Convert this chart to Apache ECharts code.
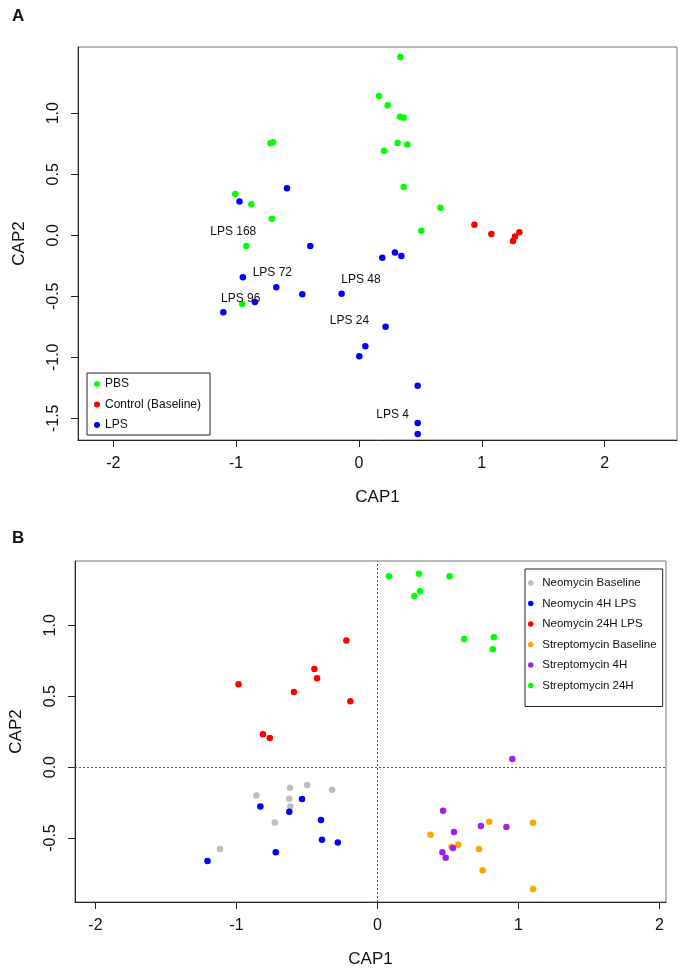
<!DOCTYPE html>
<html>
<head>
<meta charset="utf-8">
<script src="https://cdn.jsdelivr.net/npm/echarts@6/dist/echarts.min.js"></script>
<style>
html,body{margin:0;padding:0;background:#fff;}
#chart{width:681px;height:971px;}
</style>
</head>
<body>
<div id="chart"></div>
<script>
// ---------- Panel A data ----------
const pbsX = [0.337, 0.163, 0.234, 0.334, 0.364, 0.315, 0.394, 0.204, 0.364, 0.663, 0.508, -0.72, -0.70, -1.007, -0.876, -0.708, -0.917, -0.95];
const pbsY = [1.461, 1.142, 1.066, 0.972, 0.964, 0.757, 0.743, 0.693, 0.396, 0.226, 0.038, 0.755, 0.762, 0.339, 0.254, 0.136, -0.088, -0.563];
const ctrlX = [0.94, 1.078, 1.306, 1.27, 1.254];
const ctrlY = [0.087, 0.011, 0.025, -0.011, -0.047];
const lpsX = [-0.586, -0.972, -0.396, 0.19, 0.293, 0.345, -0.945, -0.673, -0.461, -0.141, -0.847, -1.104, 0.217, 0.052, 0.003, 0.478, 0.478, 0.478];
const lpsY = [0.385, 0.276, -0.088, -0.184, -0.142, -0.17, -0.344, -0.426, -0.484, -0.479, -0.547, -0.631, -0.749, -0.91, -0.992, -1.233, -1.539, -1.629];
const lpsLabelText = ['LPS 168', 'LPS 72', 'LPS 48', 'LPS 96', 'LPS 24', 'LPS 4'];
const lpsLabelX = [-1.023, -0.705, 0.016, -0.963, -0.077, 0.274];
const lpsLabelY = [0.03, -0.307, -0.364, -0.522, -0.697, -1.47];
const legendA = ['PBS', 'Control (Baseline)', 'LPS'];
const xTicksA = [-2, -1, 0, 1, 2];
const yTicksA = [-1.5, -1.0, -0.5, 0.0, 0.5, 1.0];

// ---------- Panel B data ----------
const neoBaseX = [-0.858, -0.62, -0.498, -0.321, -0.625, -0.618, -0.728, -1.116];
const neoBaseY = [-0.2, -0.146, -0.127, -0.16, -0.223, -0.277, -0.39, -0.577];
const neo4hX = [-0.83, -0.535, -0.625, -0.4, -0.393, -0.281, -0.721, -1.205];
const neo4hY = [-0.277, -0.225, -0.315, -0.373, -0.512, -0.531, -0.601, -0.662];
const neo24hX = [-0.22, -0.447, -0.428, -0.985, -0.592, -0.192, -0.812, -0.763];
const neo24hY = [0.892, 0.692, 0.627, 0.584, 0.530, 0.465, 0.232, 0.206];
const strBaseX = [0.377, 0.793, 1.104, 0.573, 0.526, 0.721, 0.746, 1.104];
const strBaseY = [-0.477, -0.385, -0.392, -0.547, -0.563, -0.577, -0.728, -0.859];
const str4hX = [0.957, 0.466, 0.543, 0.734, 0.915, 0.536, 0.461, 0.484];
const str4hY = [0.058, -0.308, -0.458, -0.416, -0.423, -0.571, -0.601, -0.639];
const str24hX = [0.082, 0.295, 0.512, 0.302, 0.262, 0.615, 0.826, 0.819];
const str24hY = [1.345, 1.363, 1.345, 1.239, 1.206, 0.903, 0.915, 0.831];
const legendB = ['Neomycin Baseline', 'Neomycin 4H LPS', 'Neomycin 24H LPS', 'Streptomycin Baseline', 'Streptomycin 4H', 'Streptomycin 24H'];
const xTicksB = [-2, -1, 0, 1, 2];
const yTicksB = [-0.5, 0.0, 0.5, 1.0];

// ---------- helpers ----------
const FONT = 'Liberation Sans, Arial, sans-serif';
const zip = (xs, ys) => xs.map((x, i) => [x, ys[i]]);

function xAxisCfg(gridIndex, min, max, ticks) {
  return {
    type: 'value', gridIndex, min, max,
    name: 'CAP1', nameLocation: 'middle', nameGap: 49,
    nameTextStyle: { fontFamily: FONT, fontSize: 17, color: '#111' },
    axisLine: { show: true, onZero: false, lineStyle: { color: '#222', width: 1 } },
    axisTick: { show: true, inside: false, length: 7, customValues: ticks, lineStyle: { color: '#222' } },
    axisLabel: { show: true, margin: 16, customValues: ticks, formatter: v => String(Math.round(v)),
      fontFamily: FONT, fontSize: 16, color: '#111' },
    splitLine: { show: false }
  };
}
function yAxisCfg(gridIndex, min, max, ticks) {
  return {
    type: 'value', gridIndex, min, max,
    name: 'CAP2', nameLocation: 'middle', nameGap: 50,
    nameTextStyle: { fontFamily: FONT, fontSize: 17, color: '#111' },
    axisLine: { show: true, onZero: false, lineStyle: { color: '#222', width: 1 } },
    axisTick: { show: true, inside: false, length: 7, customValues: ticks, lineStyle: { color: '#222' } },
    axisLabel: { show: true, margin: 16, rotate: 90, customValues: ticks, formatter: v => Number(v).toFixed(1),
      fontFamily: FONT, fontSize: 16, color: '#111' },
    splitLine: { show: false }
  };
}
function scatter(name, xi, yi, xs, ys, color, extra) {
  return Object.assign({
    name, type: 'scatter', xAxisIndex: xi, yAxisIndex: yi,
    data: zip(xs, ys), symbol: 'circle', symbolSize: 6.5,
    itemStyle: { color, opacity: 1 }
  }, extra || {});
}

const option = {
  animation: false,
  backgroundColor: '#fff',
  title: [
    { text: 'A', left: 7, top: 3, textStyle: { fontFamily: FONT, fontSize: 17, fontWeight: 'bold', color: '#111' } },
    { text: 'B', left: 7, top: 525, textStyle: { fontFamily: FONT, fontSize: 17, fontWeight: 'bold', color: '#111' } }
  ],
  grid: [
    { left: 78, top: 47, width: 599, height: 393, show: true, borderColor: '#777', borderWidth: 1, backgroundColor: 'transparent' },
    { left: 68, top: 561, width: 598, height: 341, show: true, borderColor: '#777', borderWidth: 1, backgroundColor: 'transparent' }
  ],
  xAxis: [ xAxisCfg(0, -2.287, 2.589, xTicksA), xAxisCfg(1, -2.145, 2.047, xTicksB) ],
  yAxis: [ yAxisCfg(0, -1.678, 1.543, yTicksA), yAxisCfg(1, -0.951, 1.453, yTicksB) ],
  legend: [
    {
      data: legendA, orient: 'vertical', left: 87, top: 373,
      itemWidth: 6, itemHeight: 6, itemGap: 6.5, icon: 'circle',
      padding: [4, 9, 3, 7], borderColor: '#222', borderWidth: 1,
      textStyle: { fontFamily: FONT, fontSize: 12, color: '#111', lineHeight: 14 },
      selectedMode: false
    },
    {
      data: legendB, orient: 'vertical', left: 525, top: 569,
      itemWidth: 13, itemHeight: 5.5, itemGap: 6.5, icon: 'circle',
      padding: [7, 6, 14, 3], borderColor: '#222', borderWidth: 1,
      textStyle: { fontFamily: FONT, fontSize: 11.5, color: '#111', lineHeight: 14 },
      selectedMode: false
    }
  ],
  series: [
    scatter('PBS', 0, 0, pbsX, pbsY, '#00FF00'),
    scatter('Control (Baseline)', 0, 0, ctrlX, ctrlY, '#FF0000'),
    scatter('LPS', 0, 0, lpsX, lpsY, '#0000FF'),
    {
      name: 'labelsA', type: 'scatter', xAxisIndex: 0, yAxisIndex: 0,
      symbolSize: 0, silent: true, z: 5,
      data: lpsLabelText.map((t, i) => ({ name: t, value: [lpsLabelX[i], lpsLabelY[i]] })),
      label: { show: true, position: 'inside', formatter: p => p.name,
        fontFamily: FONT, fontSize: 12, color: '#111', opacity: 1 }
    },
    scatter('Neomycin Baseline', 1, 1, neoBaseX, neoBaseY, '#BEBEBE', {
      markLine: {
        silent: true, symbol: ['none', 'none'], label: { show: false },
        lineStyle: { type: [2, 2], color: '#555', width: 1 },
        data: [{ xAxis: 0 }, { yAxis: 0 }]
      }
    }),
    scatter('Neomycin 4H LPS', 1, 1, neo4hX, neo4hY, '#0000FF'),
    scatter('Neomycin 24H LPS', 1, 1, neo24hX, neo24hY, '#FF0000'),
    scatter('Streptomycin Baseline', 1, 1, strBaseX, strBaseY, '#FFA500'),
    scatter('Streptomycin 4H', 1, 1, str4hX, str4hY, '#A020F0'),
    scatter('Streptomycin 24H', 1, 1, str24hX, str24hY, '#00FF00')
  ]
};

const chart = echarts.init(document.getElementById('chart'), null, { renderer: 'canvas', width: 681, height: 971 });
chart.setOption(option);
</script>
</body>
</html>
